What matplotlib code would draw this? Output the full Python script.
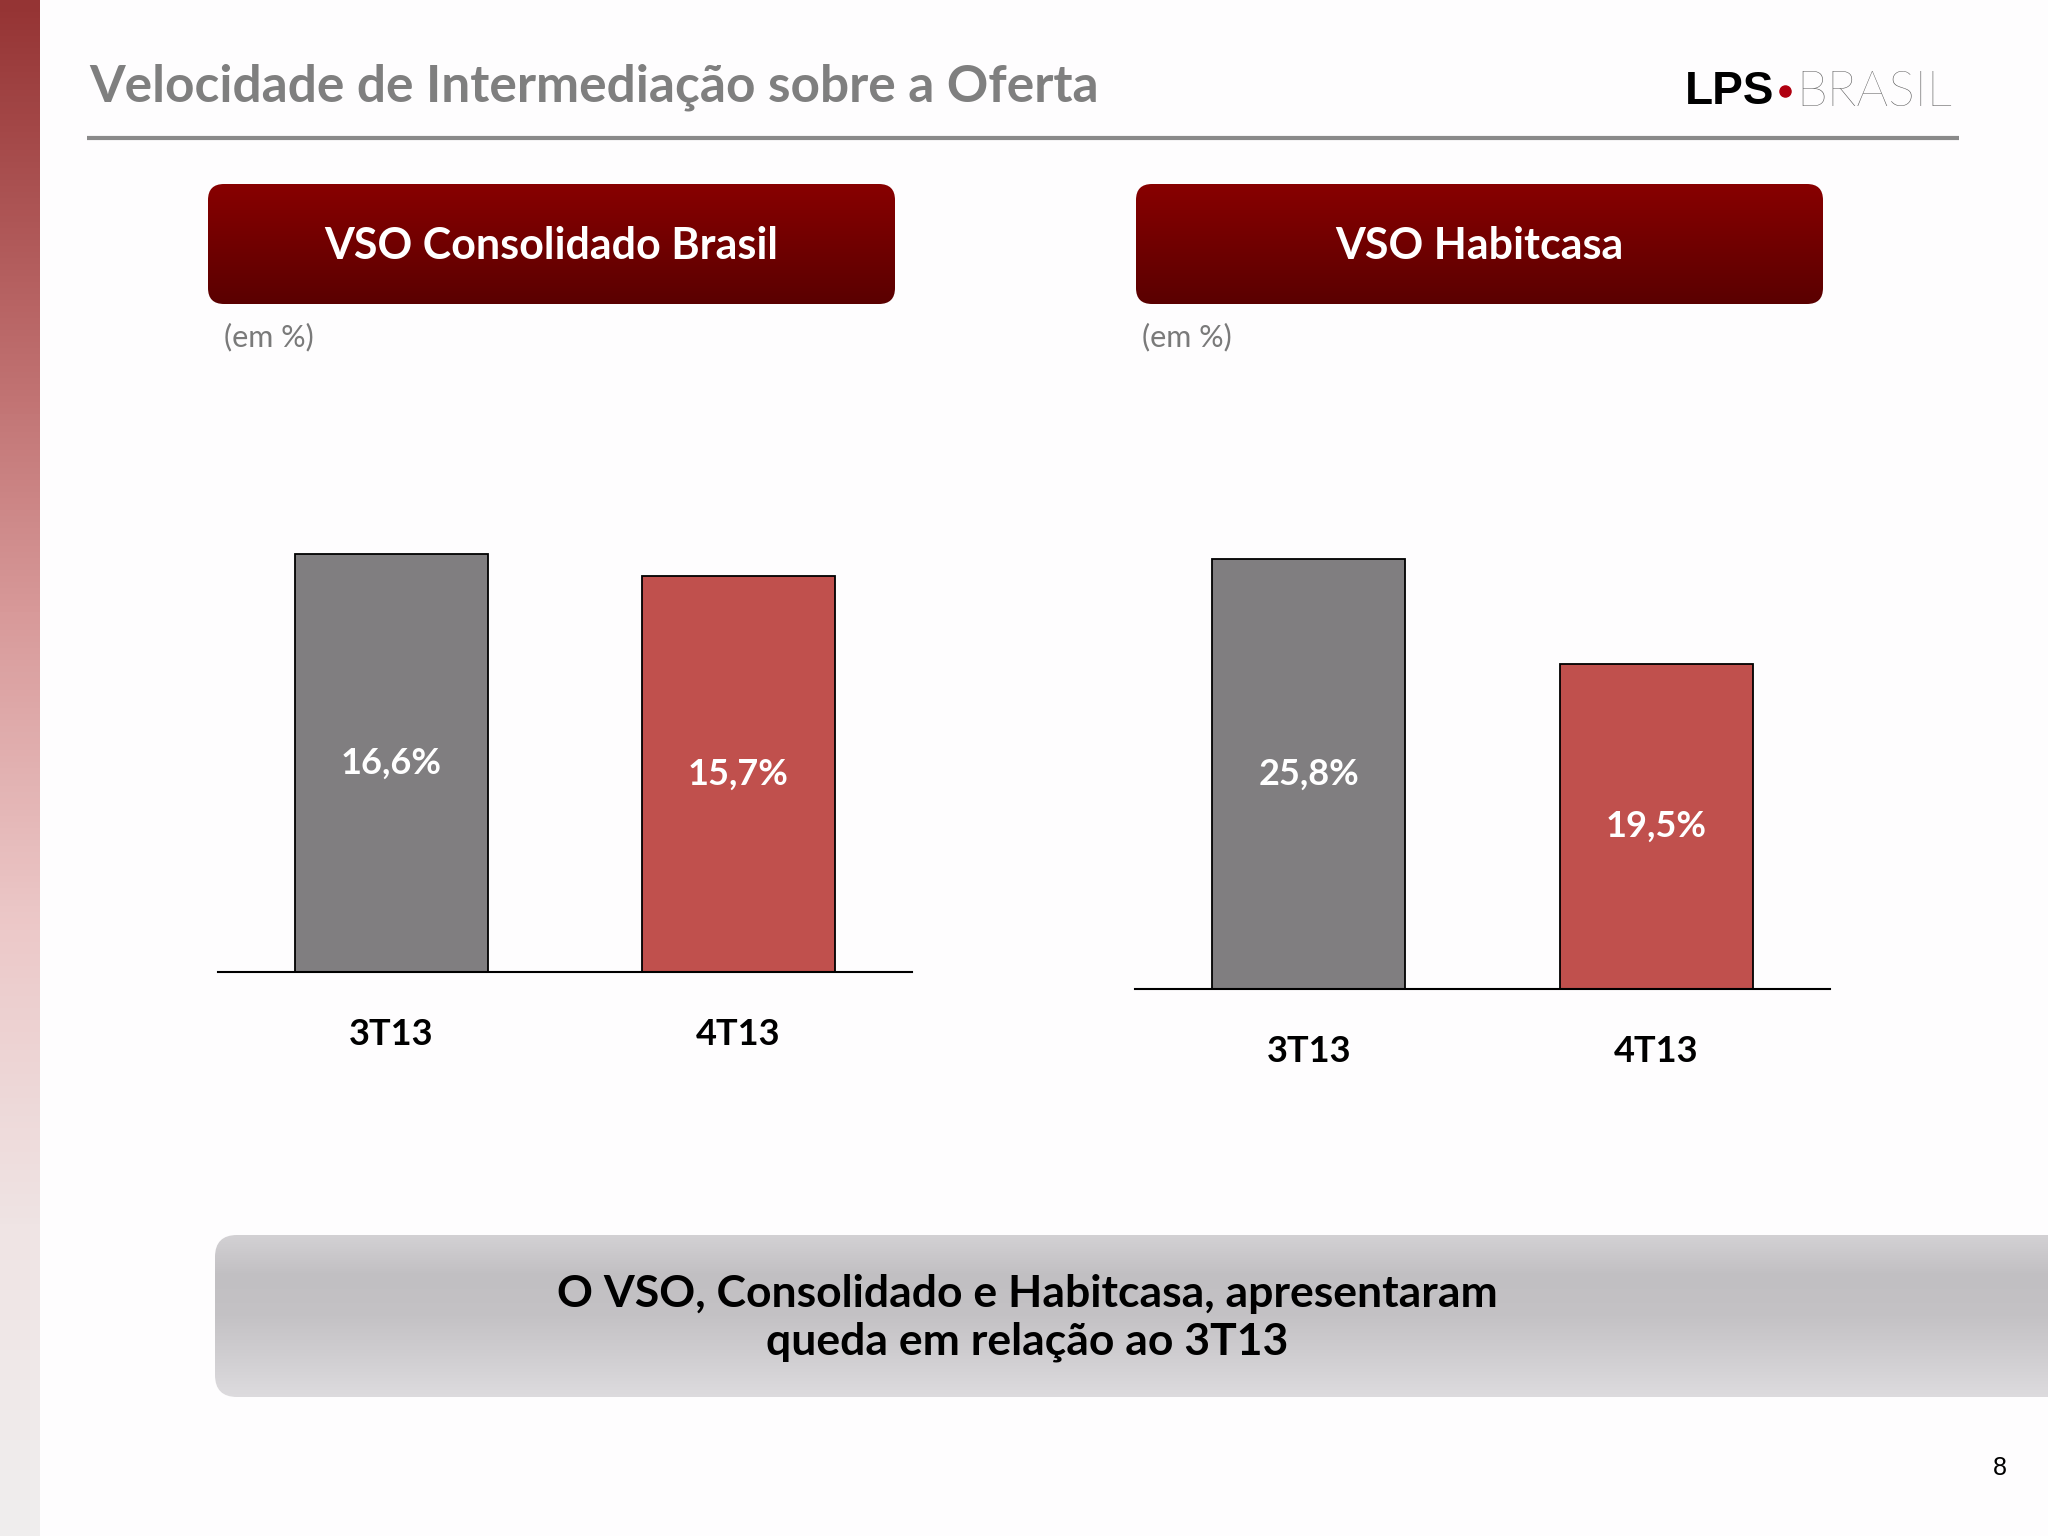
import numpy as np
import matplotlib
matplotlib.use("Agg")
import matplotlib.pyplot as plt
from matplotlib.patches import FancyBboxPatch
from matplotlib.colors import LinearSegmentedColormap

# data
categories = ["3T13", "4T13"]
vso_brasil = [16.6, 15.7]
vso_habitcasa = [25.8, 19.5]
bar_colors = ["#807e80", "#c0504d"]

W, H = 2048, 1536
fig = plt.figure(figsize=(W / 100, H / 100), dpi=100)
fig.patch.set_facecolor("#fefdfe")

# background axes in pixel coords
bg = fig.add_axes([0, 0, 1, 1])
bg.set_xlim(0, W)
bg.set_ylim(H, 0)
bg.axis("off")

# left stripe gradient
stripe_cmap = LinearSegmentedColormap.from_list(
    "stripe", ["#953434", "#b86464", "#d89a9a", "#ecc8c8", "#efe4e4", "#f0eeee"])
grad = np.linspace(0, 1, 256).reshape(-1, 1)
bg.imshow(grad, cmap=stripe_cmap, extent=[0, 40, H, 0], aspect="auto", zorder=1)

# title + rule
bg.text(89, 87, "Velocidade de Intermediação sobre a Oferta", fontsize=37,
        fontweight="bold", family="Lato", color="#7f7f7f", va="center", ha="left")
bg.plot([87, 1959], [138, 138], color="#8a8a8a", lw=3, solid_capstyle="butt")

# logo
bg.text(1685, 92, "LPS", fontsize=33, fontweight="bold", family="Liberation Sans",
        color="black", va="center", ha="left")
bg.plot([1785], [91], "o", color="#b00010", ms=8)
bg.text(1796, 92, "BRASIL", fontsize=36, fontweight="light", family="Lato",
        color="#555555", va="center", ha="left")

# header boxes
hdr_cmap = LinearSegmentedColormap.from_list("hdr", ["#880000", "#5a0000"])
for x0, unit_dx, label in [(208, 16, "VSO Consolidado Brasil"), (1136, 6, "VSO Habitcasa")]:
    box = FancyBboxPatch((x0, 184), 687, 120, boxstyle="round,pad=0,rounding_size=16",
                         fc="none", ec="none", zorder=2)
    bg.add_patch(box)
    im = bg.imshow(grad, cmap=hdr_cmap, extent=[x0, x0 + 687, 304, 184],
                   aspect="auto", zorder=2)
    im.set_clip_path(box)
    bg.text(x0 + 343, 246, label, fontsize=31, fontweight="bold", family="Lato",
            color="white", va="center", ha="center", zorder=3)
    bg.text(x0 + unit_dx, 337, "(em %)", fontsize=22, family="Lato",
            color="#7a7a7a", va="center", ha="left", zorder=3)

# bottom message box
msg_cmap = LinearSegmentedColormap.from_list(
    "msg", ["#d3d1d4", "#c1bfc2", "#c4c2c5", "#d0ced1", "#dddbde"])
box = FancyBboxPatch((215, 1235), 1900, 162, boxstyle="round,pad=0,rounding_size=22",
                     fc="none", ec="none", zorder=2)
bg.add_patch(box)
im = bg.imshow(grad, cmap=msg_cmap, extent=[215, 2115, 1397, 1235], aspect="auto", zorder=2)
im.set_clip_path(box)
bg.text(1027, 1318, "O VSO, Consolidado e Habitcasa, apresentaram\nqueda em relação ao 3T13",
        fontsize=32, fontweight="bold", family="Lato", color="black",
        va="center", ha="center", linespacing=1.2, zorder=3)

# page number
bg.text(2000, 1468, "8", fontsize=18, family="Liberation Sans", color="black",
        va="center", ha="center")


def bar_panel(x_left, x_right, base_y, px_per_unit, values):
    top_y = 380
    ax = fig.add_axes([x_left / W, 1 - base_y / H, (x_right - x_left) / W, (base_y - top_y) / H])
    ax.set_facecolor("none")
    x = np.arange(len(values))
    ax.bar(x, values, width=0.556, color=bar_colors, edgecolor="black", linewidth=1.3, zorder=2)
    ax.set_xlim(-0.5, 1.5)
    ax.set_ylim(0, (base_y - top_y) / px_per_unit)
    for s in ["top", "right", "left"]:
        ax.spines[s].set_visible(False)
    ax.spines["bottom"].set_linewidth(1.5)
    ax.set_yticks([])
    ax.set_xticks(x)
    ax.set_xticklabels(categories, fontsize=26, fontweight="bold", family="Lato")
    ax.tick_params(axis="x", length=0, pad=33)
    for xi, v in zip(x, values):
        ax.text(xi, v / 2, f"{v:.1f}%".replace(".", ","), fontsize=26, fontweight="bold",
                family="Lato", color="white", ha="center", va="center", zorder=3)
    return ax


bar_panel(218, 912, 972, 25.2, vso_brasil)
bar_panel(1135, 1830, 989, 16.67, vso_habitcasa)

fig.savefig("out.png", dpi=100, facecolor=fig.get_facecolor())
